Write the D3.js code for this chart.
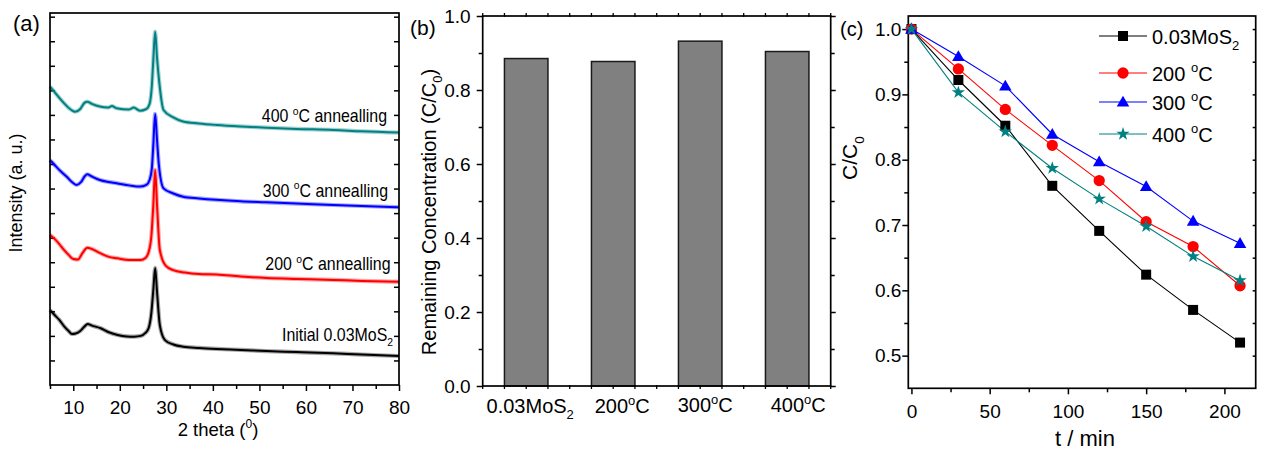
<!DOCTYPE html>
<html>
<head>
<meta charset="utf-8">
<script src="https://cdn.jsdelivr.net/npm/d3@7"></script>
<style>
  body { margin: 0; background: #fff; }
  svg { display: block; }
  text { font-family: "Liberation Sans", Arial, sans-serif; fill: #000; }
</style>
</head>
<body>
<svg id="fig" width="1264" height="453"></svg>
<script>
// ---------- (a) XRD patterns: [2θ (deg), intensity (a.u.)] ----------
const xrdInitial = [[5,3.05],[6,2.85],[7,2.65],[8,2.40],[9,2.20],[9.7,2.08],[10.5,2.10],[11.5,2.20],[12.3,2.36],[13.1,2.48],[14,2.42],[15.9,2.31],[17.5,2.16],[19.5,2.04],[21.5,1.98],[23.1,1.97],[24.5,2.00],[25.5,2.12],[26.2,2.32],[26.8,2.97],[27.2,3.87],[27.6,4.77],[28.0,3.79],[28.6,2.44],[29.7,1.83],[31.5,1.65],[33.6,1.56],[37,1.51],[40.8,1.47],[46,1.43],[51.5,1.38],[58,1.34],[65.9,1.29],[72,1.24],[80,1.18]];
const xrd200 = [[5,6.11],[6,5.95],[7,5.74],[8,5.50],[9,5.30],[10,5.13],[11,5.11],[12,5.38],[13,5.59],[14,5.54],[15.7,5.38],[17.5,5.23],[19.5,5.16],[22,5.09],[24.5,5.09],[25.5,5.17],[26.2,5.42],[26.8,6.11],[27.2,7.33],[27.6,8.76],[28.0,7.33],[28.6,5.50],[29.9,4.85],[31.5,4.68],[34,4.58],[37,4.52],[40.8,4.50],[46,4.42],[51.5,4.36],[58,4.32],[65.9,4.28],[72,4.24],[80,4.20]];
const xrd300 = [[5,9.16],[6,8.96],[7,8.76],[8.6,8.48],[9.7,8.27],[10.7,8.15],[11.7,8.27],[12.5,8.51],[13,8.58],[14,8.49],[15.7,8.35],[17.5,8.27],[19.3,8.22],[22,8.13],[24.3,8.08],[25.7,8.15],[26.4,8.35],[26.9,8.84],[27.2,9.78],[27.6,11.04],[28.0,9.98],[28.4,8.96],[29.4,8.01],[31.5,7.80],[33.6,7.67],[37,7.60],[40.8,7.54],[46,7.48],[51.5,7.44],[58,7.39],[65.9,7.33],[72,7.29],[80,7.24]];
const xrd400 = [[5,12.15],[6,11.93],[7,11.69],[8.6,11.36],[9.6,11.20],[10.4,11.13],[11.5,11.24],[12.4,11.49],[13,11.54],[14,11.45],[15.7,11.34],[17.5,11.30],[18.3,11.36],[19.3,11.27],[22,11.22],[23,11.30],[24.3,11.17],[25.7,11.24],[26.4,11.45],[26.9,12.22],[27.2,13.24],[27.6,14.39],[28.0,13.32],[28.5,12.29],[29.4,11.20],[31.5,10.90],[33.6,10.73],[37,10.65],[40.8,10.59],[46,10.53],[51.5,10.48],[58,10.43],[65.9,10.39],[72,10.33],[80,10.28]];
const xrdNames = ["Initial 0.03MoS_{2}", "200 ^{o}C annealling", "300 ^{o}C annealling", "400 ^{o}C annealling"];
const xrdColors = ["#000000", "#ff0000", "#0000ff", "#008080"];
const xrdTicks = [10, 20, 30, 40, 50, 60, 70, 80];

// ---------- (b) remaining concentration after irradiation ----------
const barCategories = ["0.03MoS_{2}", "200^{o}C", "300^{o}C", "400^{o}C"];
const barValues = [0.885, 0.877, 0.932, 0.904];
const barTicks = [0.0, 0.2, 0.4, 0.6, 0.8, 1.0];

// ---------- (c) degradation kinetics ----------
const times = [0, 30, 60, 90, 120, 150, 180, 210];
const kinInitial = [1.000, 0.922, 0.852, 0.760, 0.691, 0.624, 0.570, 0.520];
const kin200 = [1.000, 0.939, 0.877, 0.822, 0.768, 0.705, 0.667, 0.607];
const kin300 = [1.000, 0.958, 0.913, 0.839, 0.797, 0.759, 0.706, 0.672];
const kin400 = [1.000, 0.903, 0.843, 0.787, 0.740, 0.698, 0.652, 0.615];
const kinNames = ["0.03MoS_{2}", "200 ^{o}C", "300 ^{o}C", "400 ^{o}C"];
const timeTicks = [0, 50, 100, 150, 200];
const ratioTicks = [0.5, 0.6, 0.7, 0.8, 0.9, 1.0];

const svg = d3.select("#fig");
const FONT = '"Liberation Sans", Arial, sans-serif';

// text with ^{sup} and _{sub} segments
function rich(sel, str, fs) {
  sel.style("font-size", fs + "px");
  const parts = str.split(/(\^\{[^}]*\}|_\{[^}]*\})/).filter(s => s.length);
  let shift = 0;
  parts.forEach(p => {
    let target = 0, content = p, small = false;
    if (p.startsWith("^{")) { target = -0.42 * fs; content = p.slice(2, -1); small = true; }
    else if (p.startsWith("_{")) { target = 0.32 * fs; content = p.slice(2, -1); small = true; }
    const t = sel.append("tspan").text(content);
    if (small) t.style("font-size", (fs * 0.65) + "px");
    if (target !== shift) t.attr("dy", target - shift);
    shift = target;
  });
  return sel;
}

function styleAxis(g, fs) {
  g.attr("font-family", FONT).attr("font-size", fs);
  g.select(".domain").remove();
  g.selectAll(".tick line").attr("stroke", "#000").attr("stroke-width", 1.5);
  g.selectAll(".tick text").attr("fill", "#000");
}

function frame(x0, y0, x1, y1) {
  svg.append("rect").attr("x", x0).attr("y", y0)
    .attr("width", x1 - x0).attr("height", y1 - y0)
    .attr("fill", "none").attr("stroke", "#000").attr("stroke-width", 1.7);
}

// ================= (a) =================
{
  const L = 50, R = 399, T = 13, B = 385;
  const x = d3.scaleLinear().domain([5, 80]).range([L, R]);
  const y = d3.scaleLinear().domain([0, 15.15]).range([B, T]);
  const minorX = d3.range(5, 80, 10);
  const yTicks = d3.range(1, 16);

  svg.append("g").attr("transform", `translate(0,${B})`)
    .call(d3.axisBottom(x).tickValues(minorX).tickSize(4).tickFormat(""))
    .call(g => styleAxis(g, 19));
  svg.append("g").attr("transform", `translate(0,${B})`)
    .call(d3.axisBottom(x).tickValues(xrdTicks).tickSize(6).tickPadding(10))
    .call(g => styleAxis(g, 19));
  svg.append("g").attr("transform", `translate(${L},0)`)
    .call(d3.axisLeft(y).tickValues(yTicks).tickSize(-5).tickFormat(""))
    .call(g => styleAxis(g, 19));
  svg.append("g").attr("transform", `translate(${R},0)`)
    .call(d3.axisRight(y).tickValues(yTicks).tickSize(-5).tickFormat(""))
    .call(g => styleAxis(g, 19));

  const line = d3.line().x(d => x(d[0])).y(d => y(d[1])).curve(d3.curveMonotoneX);
  const sets = [xrdInitial, xrd200, xrd300, xrd400];
  sets.forEach((s, i) => {
    svg.append("path").datum(s).attr("d", line).attr("fill", "none")
      .attr("stroke", xrdColors[i]).attr("stroke-opacity", 0.35).attr("stroke-width", 4.2)
      .attr("stroke-linejoin", "round");
    svg.append("path").datum(s).attr("d", line).attr("fill", "none")
      .attr("stroke", xrdColors[i]).attr("stroke-width", 2)
      .attr("stroke-linejoin", "round");
  });

  frame(L, T, R, B);

  // sample labels, set in a slightly condensed face
  const labelPos = [[393, 340.5], [390.5, 270], [388, 196.5], [387, 122]];
  xrdNames.forEach((n, i) => {
    const t = svg.append("text")
      .attr("transform", `translate(${labelPos[i][0]},${labelPos[i][1]}) scale(0.91,1)`)
      .attr("text-anchor", "end");
    rich(t, n, 17.5);
  });

  rich(svg.append("text").attr("text-anchor", "middle").attr("x", 218).attr("y", 436), "2 theta (^{0})", 18.5);
  rich(svg.append("text").attr("text-anchor", "middle")
    .attr("transform", "translate(22,193) rotate(-90)"), "Intensity (a. u.)", 18);
  rich(svg.append("text").attr("x", 13).attr("y", 31), "(a)", 22);
}

// ================= (b) =================
{
  const L = 482.7, R = 830.7, T = 16, B = 386;
  const x = d3.scaleBand().domain(barCategories).range([L, R]).paddingInner(0.5).paddingOuter(0.25);
  const y = d3.scaleLinear().domain([0, 1]).range([B, T]);
  const minorY = d3.range(0.1, 1.0, 0.2);

  svg.selectAll("rect.bar").data(barValues).enter().append("rect")
    .attr("class", "bar")
    .attr("x", (d, i) => x(barCategories[i]))
    .attr("width", x.bandwidth())
    .attr("y", d => y(d))
    .attr("height", d => B - y(d))
    .attr("fill", "#808080").attr("stroke", "#1a1a1a").attr("stroke-width", 1.5);

  svg.append("g").attr("transform", `translate(${L},0)`)
    .call(d3.axisLeft(y).tickValues(minorY).tickSize(4).tickFormat(""))
    .call(g => styleAxis(g, 19));
  svg.append("g").attr("transform", `translate(${L},0)`)
    .call(d3.axisLeft(y).tickValues(barTicks).tickSize(6).tickPadding(6).tickFormat(d3.format(".1f")))
    .call(g => styleAxis(g, 19));
  svg.append("g").attr("transform", `translate(${R},0)`)
    .call(d3.axisRight(y).tickValues(minorY).tickSize(4).tickFormat(""))
    .call(g => styleAxis(g, 19));
  svg.append("g").attr("transform", `translate(${R},0)`)
    .call(d3.axisRight(y).tickValues(barTicks).tickSize(5).tickFormat(""))
    .call(g => styleAxis(g, 19));

  // quarter-step category ticks along top and bottom
  const qs = d3.range(0, 17).map(k => L + k * x.step() / 4);
  svg.append("g").selectAll("line").data(qs).enter().append("line")
    .attr("x1", d => d).attr("x2", d => d).attr("y1", B - 1).attr("y2", B + 3)
    .attr("stroke", "#000").attr("stroke-width", 1.3);
  svg.append("g").selectAll("line").data(qs).enter().append("line")
    .attr("x1", d => d).attr("x2", d => d).attr("y1", T - 3).attr("y2", T + 1)
    .attr("stroke", "#000").attr("stroke-width", 1.3);

  frame(L, T, R, B);

  const nudge = [4, 9, 5, 11];
  barCategories.forEach((c, i) => {
    const t = svg.append("text").attr("text-anchor", "middle")
      .attr("x", x(c) + x.bandwidth() / 2 + nudge[i]).attr("y", i < 2 ? 413 : 412);
    rich(t, c, 20);
  });

  rich(svg.append("text").attr("text-anchor", "middle")
    .attr("transform", "translate(436,212) rotate(-90)"), "Remaining Concentration (C/C_{0})", 20);
  rich(svg.append("text").attr("x", 410).attr("y", 35), "(b)", 21);
}

// ================= (c) =================
{
  const L = 908.3, R = 1255.7, T = 16, B = 388.3;
  const x = d3.scaleLinear().domain([-2, 220]).range([L, R]);
  const y = d3.scaleLinear().domain([0.45, 1.02]).range([B, T]);
  const minorX = [25, 75, 125, 175];
  const minorY = [0.55, 0.65, 0.75, 0.85, 0.95];

  svg.append("g").attr("transform", `translate(0,${B})`)
    .call(d3.axisBottom(x).tickValues(minorX).tickSize(4).tickFormat(""))
    .call(g => styleAxis(g, 19));
  svg.append("g").attr("transform", `translate(0,${B})`)
    .call(d3.axisBottom(x).tickValues(timeTicks).tickSize(6).tickPadding(10))
    .call(g => styleAxis(g, 19));
  svg.append("g").attr("transform", `translate(${L},0)`)
    .call(d3.axisLeft(y).tickValues(minorY).tickSize(4).tickFormat(""))
    .call(g => styleAxis(g, 19));
  svg.append("g").attr("transform", `translate(${L},0)`)
    .call(d3.axisLeft(y).tickValues(ratioTicks).tickSize(6).tickPadding(1).tickFormat(d3.format(".1f")))
    .call(g => styleAxis(g, 19));
  svg.append("g").attr("transform", `translate(${R},0)`)
    .call(d3.axisRight(y).tickValues(ratioTicks.concat(minorY)).tickSize(-3).tickFormat(""))
    .call(g => styleAxis(g, 19));

  frame(L, T, R, B);

  const series = [kinInitial, kin200, kin300, kin400];
  const symbols = [
    d3.symbol().type(d3.symbolSquare).size(100),
    d3.symbol().type(d3.symbolCircle).size(100),
    d3.symbol().type(d3.symbolTriangle).size(68),
    d3.symbol().type(d3.symbolStar).size(55)
  ];
  const colors = ["#000000", "#ff0000", "#0000ff", "#008080"];
  const line = d3.line().x((d, i) => x(times[i])).y(d => y(d));

  series.forEach((s, k) => {
    svg.append("path").datum(s).attr("d", line).attr("fill", "none")
      .attr("stroke", colors[k]).attr("stroke-width", 1.1);
  });
  series.forEach((s, k) => {
    svg.append("g").selectAll("path").data(s).enter().append("path")
      .attr("d", symbols[k])
      .attr("transform", (d, i) => `translate(${x(times[i])},${y(d) + (k === 2 ? 1 : 0)})`)
      .attr("fill", colors[k]);
  });

  // legend
  const rows = [36, 73, 102, 134];
  kinNames.forEach((n, k) => {
    const g = svg.append("g").attr("transform", `translate(0,${rows[k]})`);
    g.append("line").attr("x1", 1099).attr("x2", 1147).attr("y1", 0).attr("y2", 0)
      .attr("stroke", colors[k]).attr("stroke-width", 1.1);
    g.append("path").attr("d", symbols[k]).attr("transform", `translate(1123,${k === 2 ? 1 : 0})`).attr("fill", colors[k]);
    rich(g.append("text").attr("x", 1152).attr("y", 7.5), n, 20);
  });

  rich(svg.append("text").attr("text-anchor", "middle").attr("x", 1085).attr("y", 446), "t / min", 22);
  rich(svg.append("text").attr("text-anchor", "middle")
    .attr("transform", "translate(857,158) rotate(-90)"), "C/C_{0}", 21);
  rich(svg.append("text").attr("x", 840).attr("y", 36), "(c)", 20);
}
</script>
</body>
</html>
